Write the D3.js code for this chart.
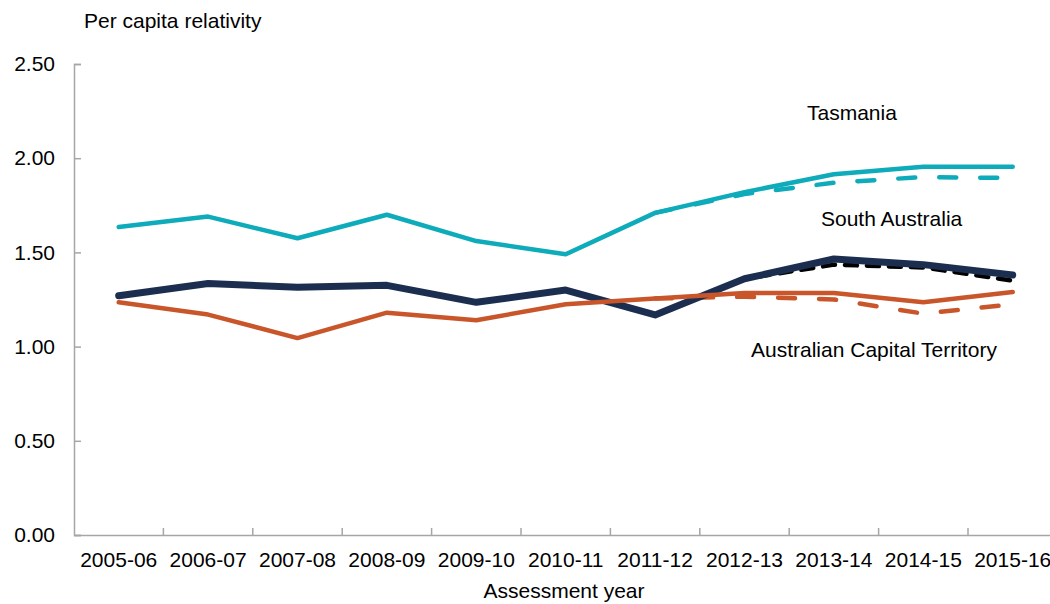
<!DOCTYPE html>
<meta charset="utf-8">
<script src="https://d3js.org/d3.v7.min.js"></script>
<style>
  body { margin: 0; background: #fff; }
  text { font-family: "Liberation Sans", Arial, sans-serif; fill: #000; }
</style>
<div id="chart"></div>
<script>
// Assessment years (categories)
var years = ["2005-06","2006-07","2007-08","2008-09","2009-10","2010-11",
             "2011-12","2012-13","2013-14","2014-15","2015-16"];

// Per capita relativities, solid = final, dashed = alternative (from 2011-12)
var tasSolid = [1.635, 1.69, 1.575, 1.70, 1.56, 1.49, 1.71, 1.82, 1.915, 1.955, 1.955];
var tasDash  = [null, null, null, null, null, null, 1.71, 1.81, 1.87, 1.90, 1.895];
var saSolid  = [1.27, 1.335, 1.315, 1.325, 1.235, 1.30, 1.168, 1.36, 1.465, 1.435, 1.38];
var saDash   = [null, null, null, null, null, null, 1.168, 1.36, 1.435, 1.42, 1.35];
var actSolid = [1.235, 1.17, 1.045, 1.18, 1.14, 1.225, 1.255, 1.285, 1.285, 1.235, 1.29];
var actDash  = [null, null, null, null, null, null, 1.255, 1.265, 1.25, 1.175, 1.225];

var yTicks = [0, 0.5, 1.0, 1.5, 2.0, 2.5];

var W = 1050, H = 604;
var fs = "21px";

var svg = d3.select("#chart").append("svg")
  .attr("width", W).attr("height", H);

var x = d3.scaleBand().domain(years).range([74, 74 + 11 * 89.4]);
var y = d3.scaleLinear().domain([0, 2.5]).range([535, 64]);

var axisColor = "#a6a6a6";

// y axis
var yAxis = svg.append("g").attr("transform", "translate(74,0)")
  .call(d3.axisLeft(y).tickValues(yTicks).tickSize(-7).tickPadding(19)
    .tickFormat(d3.format(".2f")));
yAxis.select(".domain").attr("stroke", axisColor).attr("stroke-width", 1.5);
yAxis.selectAll(".tick line").attr("stroke", axisColor).attr("stroke-width", 1.5);
yAxis.selectAll(".tick text").style("font-size", fs).attr("fill", "#000");

// x axis
var xAxis = svg.append("g").attr("transform", "translate(0,535)")
  .call(d3.axisBottom(x).tickSize(0).tickPadding(17));
xAxis.select(".domain").attr("stroke", axisColor).attr("stroke-width", 1.5);
xAxis.selectAll(".tick text").style("font-size", fs).attr("fill", "#000");
// tick marks at category boundaries, pointing up
svg.append("g").selectAll("line")
  .data(years.slice(1))
  .enter().append("line")
    .attr("x1", function(d) { return x(d); })
    .attr("x2", function(d) { return x(d); })
    .attr("y1", 535).attr("y2", 528)
    .attr("stroke", axisColor).attr("stroke-width", 1.5);

var line = d3.line()
  .defined(function(d) { return d != null; })
  .x(function(d, i) { return x(years[i]) + x.bandwidth() / 2; })
  .y(function(d) { return y(d); });

var series = [
  {values: actDash,  color: "#c9562a", width: 4.5, dash: "17,24"},
  {values: tasDash,  color: "#0eabba", width: 4.5, dash: "17,24"},
  {values: saDash,   color: "#000000", width: 4.5, dash: "12,10"},
  {values: tasSolid, color: "#0eabba", width: 4.5, dash: null},
  {values: saSolid,  color: "#1c2e4f", width: 7, dash: null},
  {values: actSolid, color: "#c9562a", width: 4.5, dash: null}
];

svg.selectAll(".series")
  .data(series)
  .enter().append("path")
    .attr("d", function(d) { return line(d.values); })
    .attr("fill", "none")
    .attr("stroke", function(d) { return d.color; })
    .attr("stroke-width", function(d) { return d.width; })
    .attr("stroke-linecap", "round")
    .attr("stroke-linejoin", "round")
    .attr("stroke-dasharray", function(d) { return d.dash; });

// labels
svg.append("text").attr("x", 84).attr("y", 28).style("font-size", fs)
  .text("Per  capita relativity");
svg.append("text").attr("x", 564).attr("y", 598).attr("text-anchor", "middle")
  .style("font-size", fs).text("Assessment year");

var labels = [
  {text: "Tasmania", x: 807, y: 120},
  {text: "South Australia", x: 821, y: 226},
  {text: "Australian Capital Territory", x: 751, y: 357}
];
svg.selectAll(".lab")
  .data(labels)
  .enter().append("text")
    .attr("x", function(d) { return d.x; })
    .attr("y", function(d) { return d.y; })
    .style("font-size", fs)
    .text(function(d) { return d.text; });
</script>
